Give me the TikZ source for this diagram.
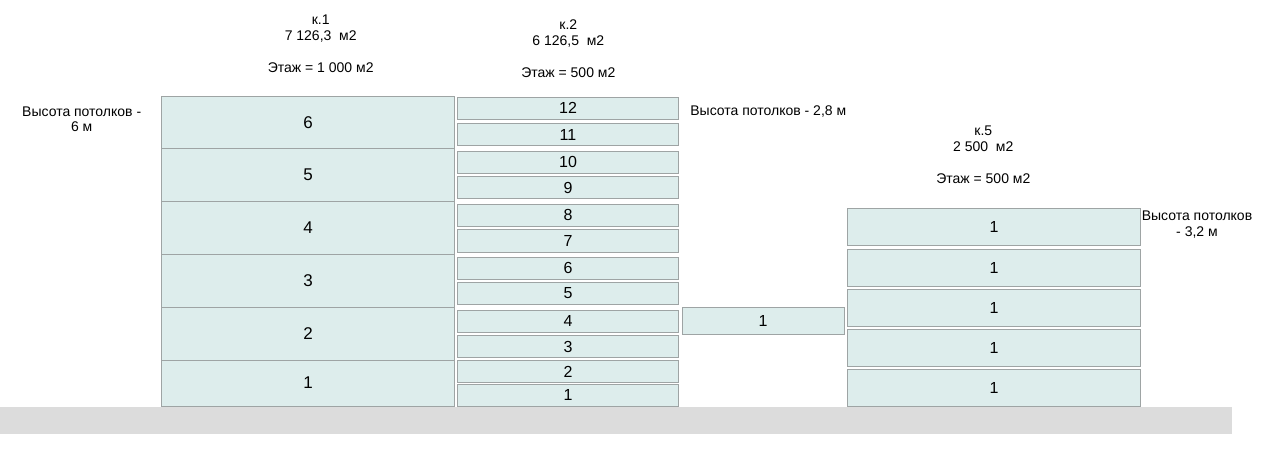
\documentclass[tikz,border=0pt]{standalone}
\usepackage{fontspec}
\setmainfont{Liberation Sans}
\usetikzlibrary{positioning}
\definecolor{floorfill}{RGB}{221,237,236}
\definecolor{floorline}{RGB}{158,164,164}
\definecolor{groundgray}{RGB}{220,220,220}

\begin{document}
\begin{tikzpicture}[x=1pt,y=-1pt,
  lbl/.style={font=\fontsize{14}{16}\selectfont,align=center,inner sep=0pt},
  fl/.style={draw=floorline,line width=0.9pt,fill=floorfill,inner sep=0pt,font=\fontsize{16}{16}\selectfont},
  k1floor/.style={fl,minimum width=293pt,font=\fontsize{17}{17}\selectfont},
  k2floor/.style={fl,minimum width=221pt},
  k5floor/.style={fl,minimum width=293pt},
  groundstrip/.style={fill=groundgray,inner sep=0pt,minimum width=1232pt,minimum height=27.5pt}]
  \useasboundingbox (0,0) rectangle (1280,454);

  % ground
  \node[groundstrip] (ground) at (616,420.5) {};

  % k.1 -- 6 floors
  \foreach \n/\t/\b in {6/96.5/148.5,5/148.5/201.5,4/201.5/254.5,3/254.5/307,2/307/360,1/360/406}{
    \pgfmathsetmacro\h{\b-\t}
    \node[k1floor,minimum height=\h pt] (kA\n) at (308,{(\t+\b)/2}) {\n};
  }

  % k.2 -- 12 floors
  \foreach \n/\t/\b in {12/97/119.5,11/123.5/145.5,10/151/173,9/176.5/198.5,8/204/226,7/229.5/252,
                        6/257/279.5,5/282/304,4/310/332,3/335.5/357.5,2/360.5/382.5,1/384.5/406}{
    \pgfmathsetmacro\h{\b-\t}
    \node[k2floor,minimum height=\h pt] (kB\n) at (568,{(\t+\b)/2}) {\n};
  }

  % passage
  \node[fl,minimum width=162pt,minimum height=27pt] (link) at (763,321) {1};

  % k.5 -- 5 floors
  \foreach \n/\t/\b in {5/208.5/245.5,4/249/286,3/289.5/326,2/329/366,1/369/406}{
    \pgfmathsetmacro\h{\b-\t}
    \node[k5floor,minimum height=\h pt] (kC\n) at (994,{(\t+\b)/2}) {1};
  }

  % headers
  \node[lbl] (k1head) at (320.7,43.5) {к.1\\7 126,3\ \ м2\\ \\Этаж = 1 000 м2};
  \node[lbl] (k2head) at (568.3,48.8) {к.2\\6 126,5\ \ м2\\ \\Этаж = 500 м2};
  \node[lbl] (k5head) at (983.3,155) {к.5\\2 500\ \ м2\\ \\Этаж = 500 м2};

  % ceiling heights
  \node[lbl,font=\fontsize{14}{15}\selectfont] (k1ceil) at (81.7,119.2) {Высота потолков -\\6 м};
  \node[lbl] (k2ceil) at (768.3,111.7) {Высота потолков - 2,8 м};
  \node[lbl] (k5ceil) at (1197,224.7) {Высота потолков\\- 3,2 м};
\end{tikzpicture}
\end{document}
